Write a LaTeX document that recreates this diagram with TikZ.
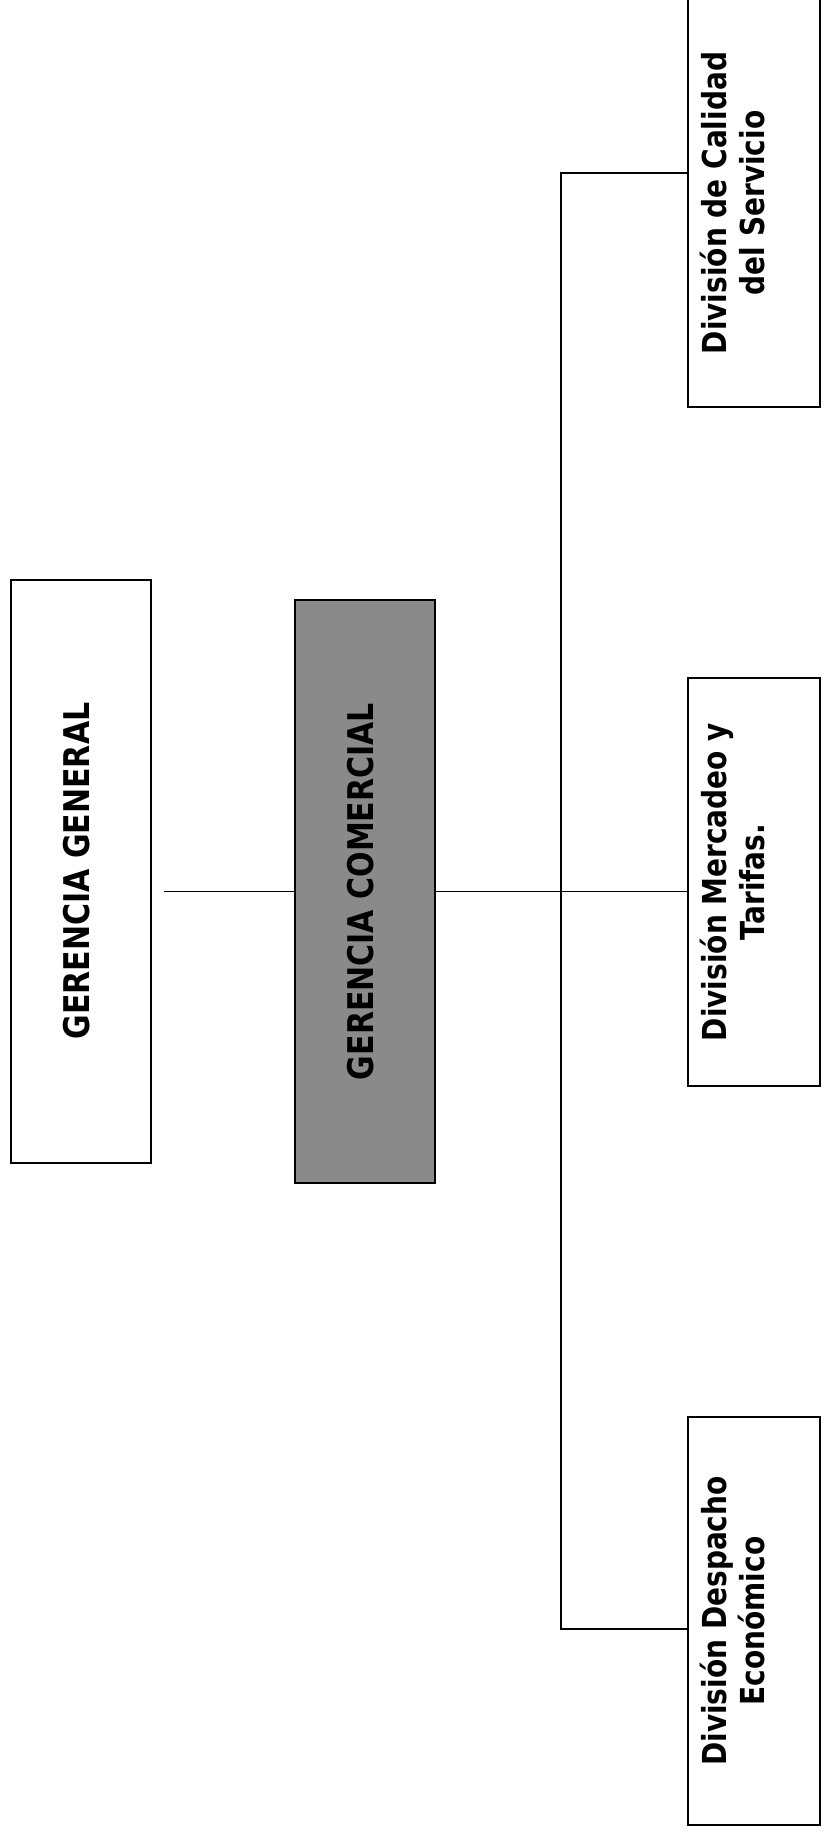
\documentclass[tikz,border=0pt]{standalone}
\usepackage{fontspec}
\setmainfont{DejaVu Sans}
\usetikzlibrary{positioning}
\definecolor{shadegray}{RGB}{138,138,138}
% upright text turned to read from bottom to top, letters a little taller
\newcommand{\vtext}[1]{\rotatebox{90}{\scalebox{1}[1.18]{\begin{tabular}{@{}c@{}}#1\end{tabular}}}}
\tikzset{
x=1pt, y=-1pt, % one unit is one pixel of the page, y runs down
gerencia/.style={draw=black, line width=2pt, minimum width=140pt, minimum height=583pt, inner sep=0pt, font=\bfseries\fontsize{30}{36}\selectfont}, % the two top boxes
division/.style={draw=black, line width=2pt, minimum width=132pt, minimum height=408pt, inner sep=0pt}, % the three division boxes
divtext/.style={inner sep=0pt, font=\bfseries\fontsize{28}{32}\selectfont},
link/.style={line width=1.7pt}, % connecting lines
}

\begin{document}
\begin{tikzpicture}
      \path[fill=white, use as bounding box] (0,0) rectangle (823,1832);

      \node[gerencia] (gg) at (81,871) {\vtext{GERENCIA GENERAL}};
      \node[gerencia, fill=shadegray] (gc) at (365,891.5) {\vtext{GERENCIA COMERCIAL}};

      \node[division] (dc) at (754,203) {};
      \node[division] (dm) at (754,882) {};
      \node[division] (dd) at (754,1621) {};
      \node[divtext] (dctext) at ([xshift=-16pt]dc.center) {\vtext{División de Calidad\\del Servicio}};
      \node[divtext] (dmtext) at ([xshift=-16pt]dm.center) {\vtext{División Mercadeo y\\Tarifas.}};
      \node[divtext] (ddtext) at ([xshift=-16pt]dd.center) {\vtext{División Despacho\\Económico}};

      \coordinate (top) at (561,173);
      \coordinate (bot) at (561,1629);

      \draw[link, shorten <=12pt] (gc.west -| gg.east) -- (gc.west);
      \draw[link] (gc.east) -- (gc.east -| dm.west);
      \draw[link] (top -| dc.west) -- (top) -- (bot) -- (bot -| dd.west);
    \end{tikzpicture}
\end{document}
